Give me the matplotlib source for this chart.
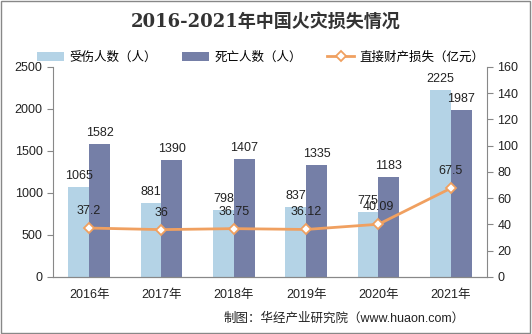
import matplotlib.pyplot as plt
import numpy as np

plt.rcParams['font.family'] = ['Liberation Sans', 'Noto Sans CJK SC', 'DejaVu Sans']

years = ['2016年', '2017年', '2018年', '2019年', '2020年', '2021年']
injured = [1065, 881, 798, 837, 775, 2225]
deaths = [1582, 1390, 1407, 1335, 1183, 1987]
loss = [37.2, 36, 36.75, 36.12, 40.09, 67.5]
loss_labels = ['37.2', '36', '36.75', '36.12', '40.09', '67.5']

c_inj = '#b4d3e6'
c_dead = '#757fa7'
c_loss = '#f0a060'

fig = plt.figure(figsize=(5.32, 3.34), dpi=100)
ax = fig.add_axes([0.0996, 0.171, 0.8158, 0.629])
ax2 = ax.twinx()

x = np.arange(len(years))
w = 0.29
b1 = ax.bar(x - w / 2, injured, w, color=c_inj, label='受伤人数（人）', zorder=2)
b2 = ax.bar(x + w / 2, deaths, w, color=c_dead, label='死亡人数（人）', zorder=2)
for i in range(len(years)):
    ax.text(x[i] - w / 2, injured[i] + 60, str(injured[i]), ha='center', va='bottom', fontsize=9, color='#222222')
    ax.text(x[i] + w / 2, deaths[i] + 60, str(deaths[i]), ha='center', va='bottom', fontsize=9, color='#222222')

ln, = ax2.plot(x, loss, color=c_loss, lw=2, marker='D', ms=5, mfc='white', mec=c_loss, mew=1.3,
               label='直接财产损失（亿元）', zorder=3)
for i in range(len(years)):
    ax2.text(x[i], loss[i] + 13, loss_labels[i], ha='center', va='center', fontsize=9, color='#222222')

ax.set_xlim(-0.5, 5.5)
ax.set_ylim(0, 2500)
ax.set_yticks(range(0, 2501, 500))
ax2.set_ylim(0, 160)
ax2.set_yticks(range(0, 161, 20))
ax.set_xticks(x)
ax.set_xticklabels(years)

for a in (ax, ax2):
    a.spines['top'].set_visible(False)
    a.tick_params(labelsize=9, colors='#222222', length=4, color='#888888')
    for s in ('left', 'right', 'bottom'):
        a.spines[s].set_color('#888888')
ax.spines['right'].set_visible(False)
ax2.spines['left'].set_visible(False)
ax.tick_params(axis='x', length=0, pad=9)

fig.text(0.5, 0.935, '2016-2021年中国火灾损失情况', ha='center', va='center', fontsize=13,
         fontweight='bold', color='#333333', family=['DejaVu Serif', 'Noto Sans CJK SC'])
fig.legend(handles=[b1, b2, ln], loc='center', bbox_to_anchor=(0.49, 0.828), ncol=3, frameon=False,
           fontsize=9, handlelength=2.2, columnspacing=2.0, handletextpad=0.4)
fig.text(0.42, 0.045, '制图：华经产业研究院（www.huaon.com）', ha='left', va='center', fontsize=9, color='#222222')

border = plt.Rectangle((0.002, 0.003), 0.995, 0.993, transform=fig.transFigure, fill=False,
                       edgecolor='#888888', lw=1)
fig.patches.append(border)

fig.savefig('out.png', dpi=100)
